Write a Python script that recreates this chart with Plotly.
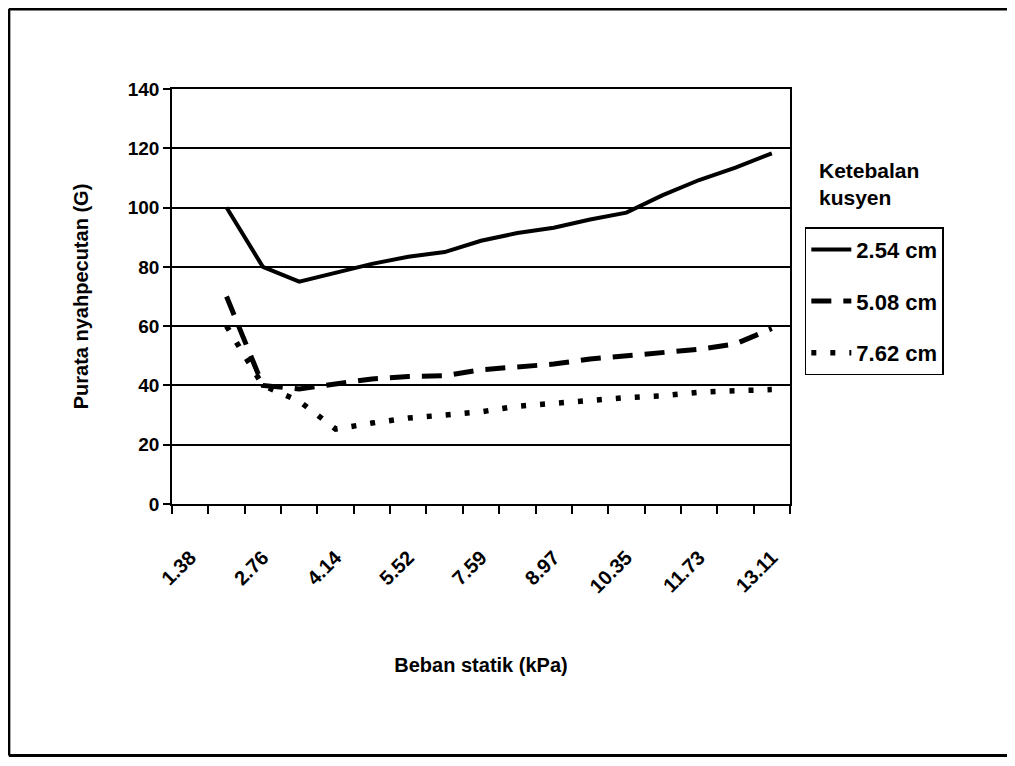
import plotly.graph_objects as go

# Categories (17 load levels; every other one labelled)
categories = ["1.38", "2.07", "2.76", "3.45", "4.14", "4.83", "5.52", "6.90", "7.59",
              "8.28", "8.97", "9.66", "10.35", "11.04", "11.73", "12.42", "13.11"]
tick_labels = ["1.38", "2.76", "4.14", "5.52", "7.59", "8.97", "10.35", "11.73", "13.11"]

series_names = ["2.54 cm", "5.08 cm", "7.62 cm"]
s254 = [None, 100, 80, 75, 78, 81, 83.4, 85, 88.8, 91.4, 93.2, 96, 98.3, 104.2, 109.3, 113.5, 118.3]
s508 = [None, 70, 40, 38.8, 40.7, 42.2, 43, 43.3, 45.3, 46.3, 47.2, 48.9, 49.9, 50.8, 52.2, 54, 59.2]
s762 = [None, 60, 40, 34.7, 25.3, 27.3, 29, 30, 31.1, 33, 34, 35.1, 35.9, 36.5, 37.7, 38.2, 38.6]

FONT = "Liberation Sans"
idx = list(range(len(categories)))

fig = go.Figure()
styles = [dict(dash="solid", width=4), dict(dash="20px,12px", width=5), dict(dash="5px,14px", width=5.5)]
for i, (name, vals) in enumerate(zip(series_names, [s254, s508, s762])):
    fig.add_trace(go.Scatter(
        x=idx, y=vals, mode="lines", name=name, legendgroup=name,
        line=dict(color="black", **styles[i]), connectgaps=False,
    ))

label_pos = [categories.index(t) for t in tick_labels]

frame = dict(color="black", width=3)
fig.update_layout(
    width=999, height=750,
    paper_bgcolor="white", plot_bgcolor="white",
    margin=dict(l=164, r=217, t=81, b=254),
    font=dict(family=FONT, color="black", size=16),
    showlegend=True,
    legend=dict(
        x=1.024, y=0.667, xanchor="left", yanchor="top",
        bordercolor="black", borderwidth=1.5, bgcolor="white",
        font=dict(family=FONT, size=22, weight="bold", color="black"),
        tracegroupgap=20, traceorder="grouped", itemwidth=40,
    ),
    xaxis=dict(
        range=[-0.5, len(categories) - 0.5],
        tickmode="array", tickvals=label_pos, ticktext=tick_labels,
        tickangle=-45, ticks="", showgrid=False,
        tickfont=dict(family=FONT, size=20, weight="bold"),
        ticklabelstandoff=32,
        showline=True, linecolor="black", linewidth=2, mirror=True,
        minor=dict(tickmode="linear", tick0=-0.5, dtick=1, ticks="outside",
                   ticklen=8, tickcolor="black", tickwidth=1.5, showgrid=False),
        title=dict(text="Beban statik (kPa)", font=dict(family=FONT, size=20, weight="bold"), standoff=62),
        zeroline=False,
    ),
    yaxis=dict(
        range=[0, 140], tickmode="linear", tick0=0, dtick=20,
        ticks="outside", ticklen=7, tickcolor="black", tickwidth=1.5,
        showgrid=True, gridcolor="black", gridwidth=1.5,
        tickfont=dict(family=FONT, size=19, weight="bold"),
        showline=True, linecolor="black", linewidth=1.5, mirror=True,
        title=dict(text="Purata nyahpecutan (G)", font=dict(family=FONT, size=20, weight="bold"), standoff=34),
        zeroline=False,
    ),
    annotations=[dict(
        text="Ketebalan<br>kusyen", xref="paper", yref="paper",
        x=1.044, y=0.835, xanchor="left", yanchor="top", align="left", showarrow=False,
        font=dict(family=FONT, size=21, weight="bold", color="black"),
    )],
    shapes=[
        dict(type="line", xref="paper", yref="paper", x0=-0.264, x1=-0.264, y0=-0.606, y1=1.193, line=frame),
        dict(type="line", xref="paper", yref="paper", x0=-0.264, x1=1.4, y0=1.193, y1=1.193, line=frame),
        dict(type="line", xref="paper", yref="paper", x0=-0.264, x1=1.4, y0=-0.606, y1=-0.606, line=frame),
    ],
)

fig.write_html("out.html")
